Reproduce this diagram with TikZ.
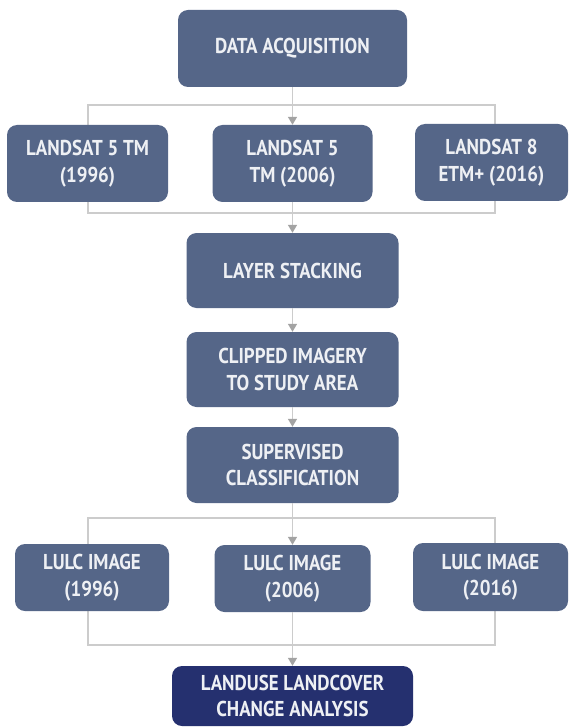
\documentclass[tikz,border=0pt]{standalone}
\usepackage{fontspec}
\setmainfont[FakeStretch=0.88]{PT Sans}
\usetikzlibrary{arrows.meta}
\definecolor{boxblue}{HTML}{556688}
\definecolor{navybox}{HTML}{25306F}
\definecolor{linegray}{HTML}{CCCCCC}
\definecolor{tipgray}{HTML}{A3A3A3}
\definecolor{txtcol}{HTML}{EEF0F4}
\begin{document}
\begin{tikzpicture}[x=1pt,y=-1pt,
  box/.style={fill=boxblue, rounded corners=10pt, inner sep=0pt, text=txtcol,
    font=\fontsize{21.5}{26.5}\selectfont\bfseries, align=center},
  conn/.style={draw=linegray, line width=1.4pt},
  arr/.style={conn, -{Triangle[length=8pt,width=9pt,color=tipgray]}}]
\fill[white] (0,0) rectangle (569,727);
\useasboundingbox (0,0) rectangle (569,727);
% frame coordinates
\coordinate (fa1) at (88,105);
\coordinate (fb1) at (495,213);
\coordinate (fa2) at (88,518);
\coordinate (fb2) at (495,645);
\draw[conn] (fa1) rectangle (fb1);
\draw[conn] (fa2) rectangle (fb2);
% nodes
\node[box, minimum width=229pt, minimum height=77pt] (data) at (292.5,48.5) {DATA ACQUISITION};
\node[box, minimum width=161pt, minimum height=77pt] (l1) at (87.5,163.5) {LANDSAT 5 TM\\(1996)};
\node[box, minimum width=160pt, minimum height=77pt] (l2) at (292.5,163.5) {LANDSAT 5\\TM (2006)};
\node[box, minimum width=153pt, minimum height=77pt] (l3) at (491.5,162.5) {LANDSAT 8\\ETM+ (2016)};
\node[box, minimum width=212pt, minimum height=75pt] (layer) at (292.5,270.5) {LAYER STACKING};
\node[box, minimum width=212pt, minimum height=75pt] (clip) at (292.5,369.5) {CLIPPED IMAGERY\\TO STUDY AREA};
\node[box, minimum width=212pt, minimum height=76pt] (sup) at (292.5,465) {SUPERVISED\\CLASSIFICATION};
\node[box, minimum width=154pt, minimum height=67pt] (r1) at (92,577.5) {LULC IMAGE\\(1996)};
\node[box, minimum width=156pt, minimum height=67pt] (r2) at (292.5,578.5) {LULC IMAGE\\(2006)};
\node[box, minimum width=155pt, minimum height=68pt] (r3) at (490.5,577) {LULC IMAGE\\(2016)};
\node[box, fill=navybox, minimum width=241pt, minimum height=60pt] (final) at (292.5,696) {LANDUSE LANDCOVER\\CHANGE ANALYSIS};
% connectors
\draw[arr] (data) -- (l2);
\draw[arr] (l2) -- (layer);
\draw[arr] (layer) -- (clip);
\draw[arr] (clip) -- (sup);
\draw[arr] (sup) -- (r2);
\draw[arr] (r2) -- (final);
\end{tikzpicture}
\end{document}
